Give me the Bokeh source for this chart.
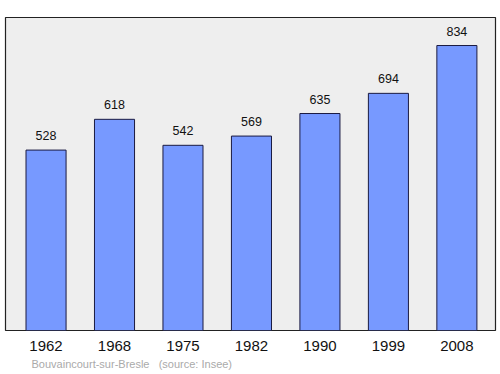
from bokeh.plotting import figure
from bokeh.models import Title, Range1d, FixedTicker, ColumnDataSource
from bokeh.embed import file_html
from bokeh.resources import INLINE

years = ["1962", "1968", "1975", "1982", "1990", "1999", "2008"]
population = [528, 618, 542, 569, 635, 694, 834]

xs = list(range(len(years)))
src = ColumnDataSource(dict(x=xs, top=population, label=[str(v) for v in population]))

p = figure(width=500, height=374, output_backend="svg", toolbar_location=None,
           x_range=Range1d(-0.592, 6.564), y_range=Range1d(0, 916),
           min_border_left=5, min_border_right=5, min_border_top=17, min_border_bottom=44)
p.background_fill_color = "#eeeeee"
p.border_fill_color = "white"
p.outline_line_color = "#222222"
p.outline_line_width = 1.2
p.xgrid.visible = False
p.ygrid.visible = False
p.yaxis.visible = False

p.vbar(x="x", top="top", bottom=0, width=0.585, source=src,
       fill_color="#7799ff", line_color="#1a1a40", line_width=1)
p.text(x="x", y="top", text="label", source=src, text_align="center",
       text_baseline="bottom", y_offset=-10, text_font_size="12.5px",
       text_color="#111111", text_font={"value": "Liberation Sans"})

ax = p.xaxis[0]
ax.ticker = FixedTicker(ticks=xs)
ax.major_label_overrides = {i: y for i, y in zip(xs, years)}
ax.axis_line_color = None
ax.major_tick_line_color = None
ax.minor_tick_line_color = None
ax.major_tick_in = 0
ax.major_tick_out = 0
ax.major_label_standoff = 10
ax.major_label_text_font_size = "15px"
ax.major_label_text_font = "Liberation Sans"
ax.major_label_text_color = "#111111"

t = Title(text="Bouvaincourt-sur-Bresle\u00a0\u00a0\u00a0(source: Insee)", align="left",
          offset=26, standoff=4, text_font_size="11px", text_color="#aaaaaa",
          text_font="Liberation Sans", text_font_style="normal")
p.add_layout(t, "below")

open("out.html", "w").write(file_html(p, INLINE))
